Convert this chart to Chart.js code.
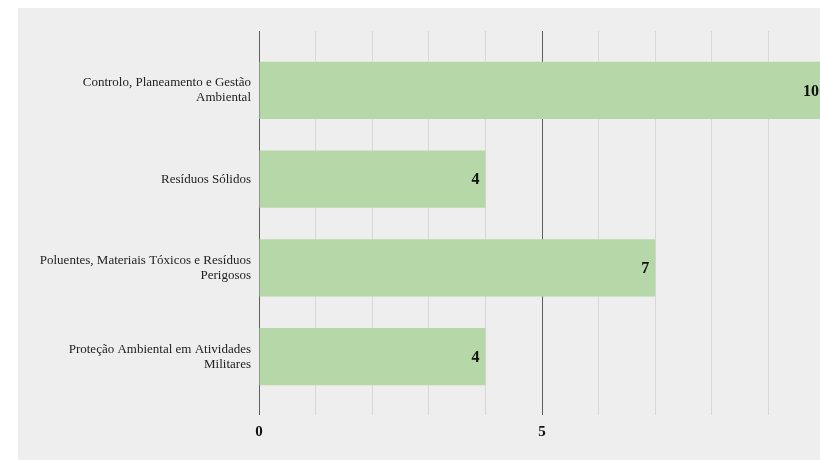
<!DOCTYPE html>
<html>
<head>
<meta charset="utf-8">
<script src="https://cdn.jsdelivr.net/npm/chart.js@4"></script>
<style>
  body { margin: 0; background: #ffffff; overflow: hidden; width: 820px; height: 460px; }
  #panel { position: absolute; left: 18px; top: 8px; width: 820px; height: 452px; background: #eeeeee; }
</style>
</head>
<body>
<div id="panel"><canvas id="barChart" width="820" height="452"></canvas></div>
<script>
const categories = [
    ["Controlo, Planeamento e Gestão", "Ambiental"],
    ["Resíduos Sólidos"],
    ["Poluentes, Materiais Tóxicos e Resíduos", "Perigosos"],
    ["Proteção Ambiental em Atividades", "Militares"]
];
const counts = [10, 4, 7, 4];
const labelledTicks = [0, 5];

const barGreen = "#b6d7a8";

function gridColour(ctx) {
    return ctx.tick && ctx.tick.value % 5 === 0 ? "#5f5f5f" : "#d8d8d8";
}

// writes the count at the end of each bar
const valueLabels = {
    id: "valueLabels",
    afterDatasetsDraw(chart) {
        const ctx = chart.ctx;
        const meta = chart.getDatasetMeta(0);
        ctx.save();
        ctx.font = "bold 16px 'Liberation Serif', serif";
        ctx.fillStyle = "#111111";
        ctx.textAlign = "right";
        ctx.textBaseline = "middle";
        meta.data.forEach((bar, i) => {
            ctx.fillText(String(counts[i]), bar.x - 6, bar.y + 1);
        });
        ctx.restore();
    }
};

const ctx = document.getElementById("barChart").getContext("2d");
new Chart(ctx, {
    type: "bar",
    data: {
        labels: categories,
        datasets: [{
            data: counts,
            backgroundColor: barGreen,
            borderWidth: 0,
            categoryPercentage: 1,
            barPercentage: 0.643
        }]
    },
    options: {
        indexAxis: "y",
        responsive: false,
        animation: false,
        devicePixelRatio: 1,
        layout: { padding: { top: 23, right: 13, bottom: 0, left: 0 } },
        plugins: {
            legend: { display: false },
            tooltip: { enabled: false }
        },
        scales: {
            x: {
                position: "bottom",
                min: 0,
                max: 10,
                afterFit: scale => { scale.height = 59; },
                border: { display: false },
                grid: { color: gridColour, tickLength: 14 },
                ticks: {
                    stepSize: 1,
                    autoSkip: false,
                    maxRotation: 0,
                    padding: 8,
                    color: "#111111",
                    font: { family: "'Liberation Serif', serif", size: 15, weight: "bold" },
                    callback: v => labelledTicks.includes(v) ? String(v) : ""
                }
            },
            xTop: {
                position: "top",
                min: 0,
                max: 10,
                afterFit: scale => { scale.height = 15; },
                border: { display: false },
                grid: { color: gridColour, tickLength: 15, drawOnChartArea: false },
                ticks: { stepSize: 1, display: false }
            },
            y: {
                afterFit: scale => { scale.width = 241; },
                border: { display: false },
                grid: { display: false, drawTicks: false },
                ticks: {
                    padding: 8,
                    color: "#222222",
                    font: { family: "'Liberation Serif', serif", size: 13, lineHeight: 1.15 }
                }
            }
        }
    },
    plugins: [valueLabels]
});
</script>
</body>
</html>
